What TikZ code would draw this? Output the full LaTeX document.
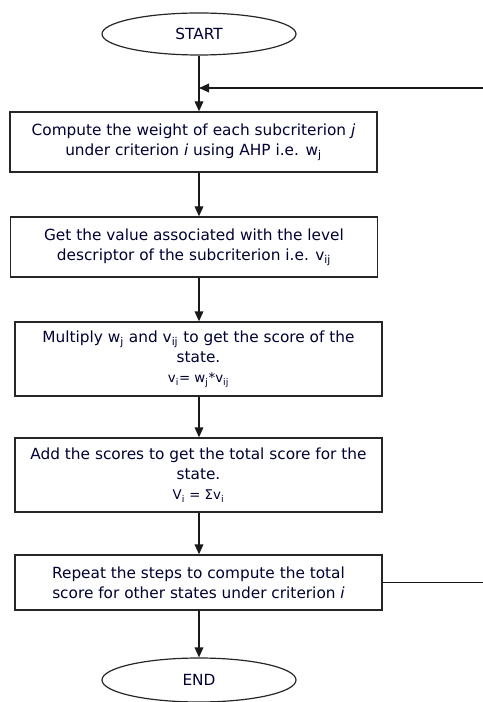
\documentclass[tikz,border=0pt]{standalone}
\usepackage{fontspec}
\setmainfont{DejaVu Sans}
\usetikzlibrary{arrows.meta,shapes.geometric}
\begin{document}
\begin{tikzpicture}[x=0.75pt,y=-0.75pt,
  every node/.style={font=\fontsize{11.5}{15}\selectfont, text=black!80!blue},
  stepbox/.style={draw=black!85, line width=1pt, rectangle, align=center, inner sep=0pt,
     minimum width=275.25pt},
  term/.style={draw=black!85, line width=0.9pt, ellipse, minimum width=145.5pt, minimum height=31.5pt, inner sep=0pt},
  conn/.style={line width=1pt, draw=black!90, -{Triangle[length=7.5pt,width=6.5pt]}}]
\useasboundingbox (0,0) rectangle (482,702);
\node[term] (start) at (199,34) {START};
\node[stepbox, minimum height=45pt] (b1) at (193.5,142) {Compute the weight of each subcriterion \textit{j}\\under criterion \textit{i} using AHP i.e. w\textsubscript{j}};
\node[stepbox, minimum height=45pt] (b2) at (194,247) {Get the value associated with the level\\descriptor of the subcriterion i.e. v\textsubscript{ij}};
\node[stepbox, minimum height=55.5pt] (b3) at (198.5,359) {Multiply w\textsubscript{j} and v\textsubscript{ij} to get the score of the\\state.\\{\fontsize{10}{15}\selectfont v\textsubscript{i}= w\textsubscript{j}*v\textsubscript{ij}}};
\node[stepbox, minimum height=55.5pt] (b4) at (198.5,475) {Add the scores to get the total score for the\\state.\\{\fontsize{10}{15}\selectfont V\textsubscript{i} = Σv\textsubscript{i}}};
\node[stepbox, minimum height=41.25pt] (b5) at (198.5,582.5) {Repeat the steps to compute the total\\score for other states under criterion \textit{i}};
\node[term, minimum height=33pt] (end) at (199,680) {END};
\coordinate (fbT) at (483.5,88);
\coordinate (fbJ) at (199,88);
\draw[conn] (start.south) -- (start.south |- b1.north);
\draw[conn] (start.south |- b1.south) -- (start.south |- b2.north);
\draw[conn] (start.south |- b2.south) -- (start.south |- b3.north);
\draw[conn] (start.south |- b3.south) -- (start.south |- b4.north);
\draw[conn] (start.south |- b4.south) -- (start.south |- b5.north);
\draw[conn] (start.south |- b5.south) -- (end.north);
\draw[conn] (b5.east) -| (fbT) -- (fbJ);
\end{tikzpicture}
\end{document}
